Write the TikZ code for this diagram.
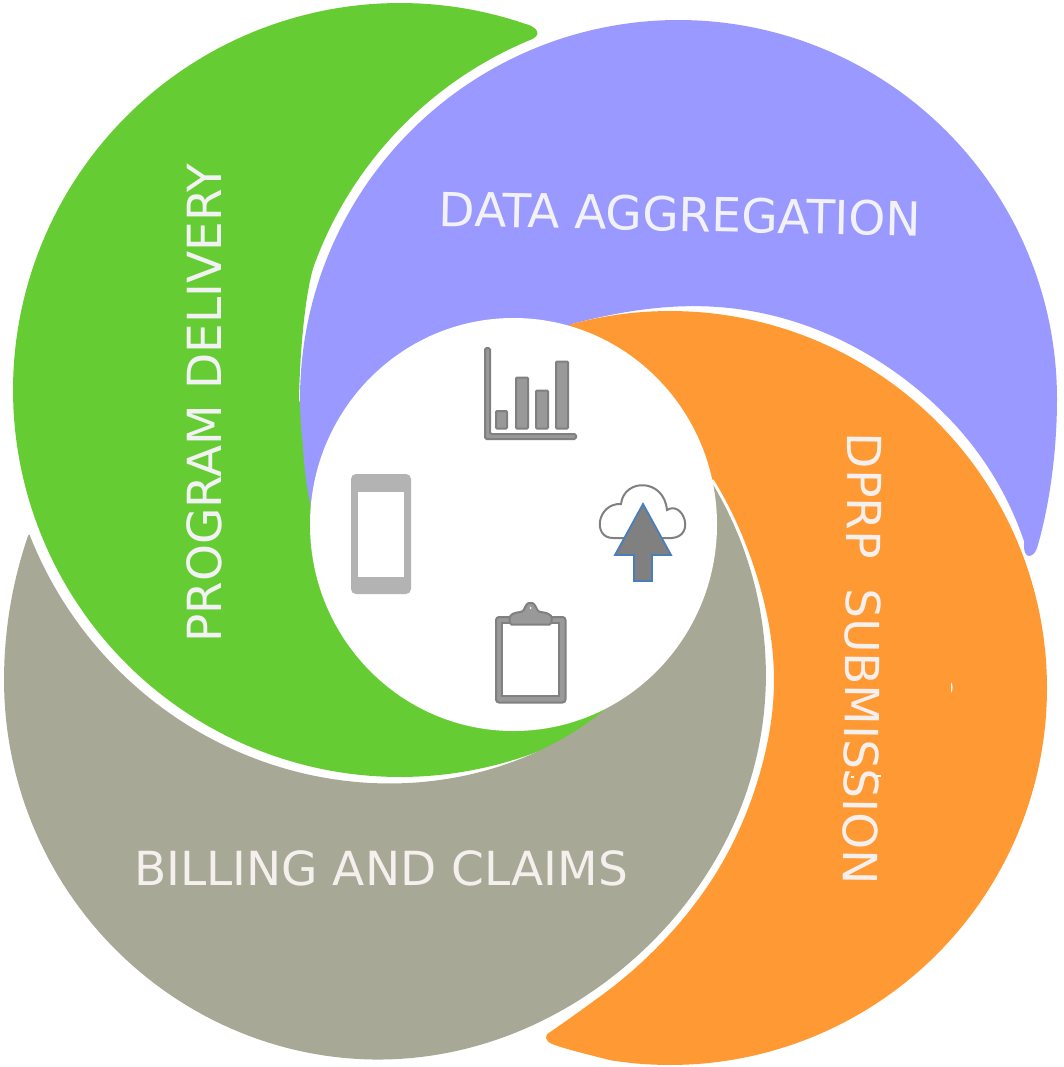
\documentclass[tikz,border=0pt]{standalone}
\usepackage{fontspec}
\setmainfont{DejaVu Sans}
\definecolor{cgreen}{HTML}{66CC33}
\definecolor{cblue}{HTML}{9999FF}
\definecolor{corange}{HTML}{FF9933}
\definecolor{cgray}{HTML}{A7A895}
\definecolor{ctext}{HTML}{F2F2F5}
\definecolor{ctextw}{HTML}{F5F0EE}
\definecolor{icond}{HTML}{808080}
\definecolor{iconm}{HTML}{999999}
\definecolor{iconl}{HTML}{B3B3B3}
\definecolor{arrowb}{HTML}{4A7EBB}
\tikzset{
 lab/.style={text=ctext,font=\fontsize{47}{47}\selectfont,inner sep=0pt,anchor=center},
 bar/.style={fill=iconm,draw=icond,line width=2pt,rounded corners=1pt},
 arcplot/.style={samples=160},
 declare function={
  rgo(\t)=381.5-8*exp(-((\t-49)/35)*((\t-49)/35))+4*max(0,(\t-180)/22)*max(0,(\t-180)/22);
  rgi(\t)=398-18.5*exp(-(\t-57)/24);
  rbi(\t)=377+11*(1-exp(-((\t-255)/22)*((\t-255)/22)))-5*max(0,(\t-316)/22)*max(0,(\t-316)/22);
  roi(\t)=385+4*exp(-(\t/14)*(\t/14))-3.5*exp(-((\t-45)/18)*((\t-45)/18))+5*max(0,(\t-55)/10)*max(0,(\t-55)/10);
 },
}
\begin{document}
\begin{tikzpicture}[x=1pt,y=-1pt]
\useasboundingbox (0,0) rectangle (1063,1067);
% green
\fill[cgreen] plot[arcplot,domain=248:200] ({678.5+388*cos(\x)},{398.5+388*sin(\x)})
 .. controls (306,290) and (300,345) .. (299,400)
 -- (320,460) -- (400,600) -- (590,680)
 -- plot[arcplot,domain=55:289] ({400+387*cos(\x)},{390+387*sin(\x)})
 .. controls (534,26) and (543,33) .. (533,38.8) -- cycle;
% gray
\fill[cgray] plot[arcplot,domain=-31.4:202] ({385.5+rgo(\x)*cos(\x)},{680+rgo(\x)*sin(\x)})
 -- plot[arcplot,domain=158.7:57] ({400+rgi(\x)*cos(\x)},{390+rgi(\x)*sin(\x)})
 -- (513,525) -- cycle;
% blue
\fill[cblue] (311,507) .. controls (306,485) and (304,465) .. (303,447)
 -- plot[arcplot,domain=172.6:360] ({678.5+378.5*cos(\x)},{398.5+378.5*sin(\x)})
 .. controls (1057,460) and (1047,515) .. (1037,548)
 .. controls (1034,557) and (1025,560) .. (1024,548)
 -- plot[arcplot,domain=337.6:255] ({670+rbi(\x)*cos(\x)},{688+rbi(\x)*sin(\x)})
 -- (513,525) -- cycle;
% orange
\fill[corange] plot[arcplot,domain=254.6:459] ({670+377*cos(\x)},{688+377*sin(\x)})
 .. controls (590,1055) and (565,1049) .. (552,1044)
 .. controls (545,1041) and (544,1035) .. (549.4,1032.5)
 -- plot[arcplot,domain=65:-31.4] ({385+roi(\x)*cos(\x)},{680+roi(\x)*sin(\x)})
 -- (513,525) -- cycle;
\fill[white] (951,682) .. controls (953,685) and (953,690) .. (951,693) -- cycle;
\fill[white] (851,776) rectangle (854,778);
\fill[white] (876,775) rectangle (881,777);
% centre
\fill[white] (513.5,524.5) ellipse (203.5 and 206.5);
% labels
\node[lab,rotate=90] (pd) at (204,403) {PROGRAM DELIVERY};
\node[lab,rotate=-1.2] (da) at (680,214) {DATA AGGREGATION};
\node[lab,rotate=-90.6,text=ctextw] (ds) at (862.5,659) {DPRP\ \ SUBMISSION};
\node[lab,text=ctextw] (bc) at (381,868) {BILLING AND CLAIMS};
% chart
\draw[bar,rounded corners=1.5pt] (485,348) -- (490,348) -- (490,434) -- (576,434) -- (576,439) -- (485,439) -- cycle;
\draw[bar] (496,411) rectangle (507,428.5);
\draw[bar] (516,377.5) rectangle (528,428.5);
\draw[bar] (536,390.5) rectangle (548,428.5);
\draw[bar] (556,361.5) rectangle (568,428.5);
% phone
\fill[iconl,rounded corners=5pt] (351,474) rectangle (411,594);
\fill[white] (358,492) rectangle (404,577);
% cloud
\draw[icond,line width=2pt,fill=white] (613,538) .. controls (592,538) and (597,503) .. (621,504) .. controls (624,478) and (664,478) .. (667,510) .. controls (683,500) and (696,536) .. (672,538) -- cycle;
\draw[arrowb,fill=icond,line width=1.8pt,line join=miter] (643,504) -- (671,555) -- (652,555) -- (652,581) -- (634,581) -- (634,555) -- (615,555) -- cycle;
% clipboard
\draw[icond,fill=iconm,line width=2pt,rounded corners=3pt] (496,617) rectangle (565.5,702.5);
\draw[icond,fill=white,line width=1.5pt] (502,623) rectangle (559,696);
\draw[icond,fill=iconm,line width=2pt,rounded corners=1.5pt] (510,624.5) -- (509.5,617) .. controls (513,612.5) and (518,612.5) .. (523,611.5) .. controls (525,607) and (527,603) .. (530.5,603) .. controls (534,603) and (536,607) .. (538,611.5) .. controls (543,612.5) and (548,612.5) .. (552,617) -- (551,624.5) -- cycle;
\fill[white] (530.5,608) circle (1);
\end{tikzpicture}
\end{document}
